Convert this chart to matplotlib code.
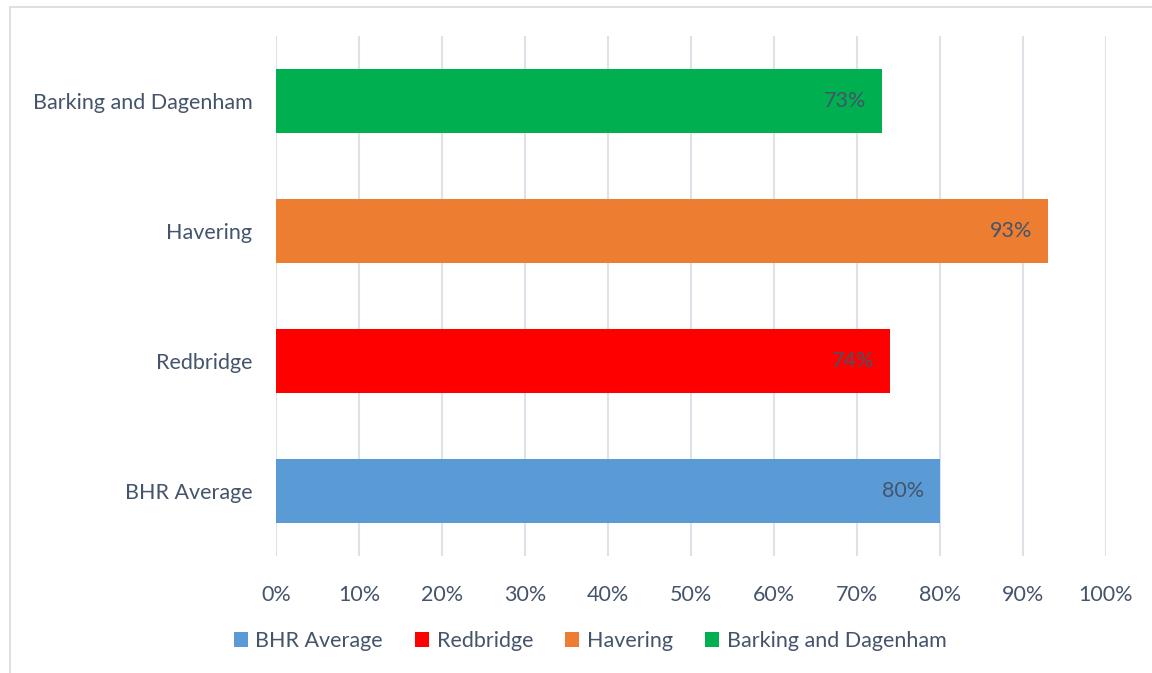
import matplotlib.pyplot as plt
from matplotlib.patches import Rectangle, Patch

plt.rcParams["font.family"] = ["Lato", "DejaVu Sans"]

# data
areas = ["BHR Average", "Redbridge", "Havering", "Barking and Dagenham"]
values = [80, 74, 93, 73]
colours = ["#5B9BD5", "#FF0000", "#ED7D31", "#00B050"]
xticks = list(range(0, 101, 10))
xlabels = ["%d%%" % t for t in xticks]

textCol = "#44546A"
gridCol = "#DDE2E9"
fs = 15.5

fig = plt.figure(figsize=(11.52, 6.73), dpi=100)
ax = fig.add_axes([276 / 1152, 1 - 556 / 673, 830 / 1152, 520 / 673])

ypos = list(range(len(areas)))
bars = ax.barh(ypos, values, height=0.49, color=colours, zorder=2)
for y, v in zip(ypos, values):
    ax.text(v - 1.9, y, "%d%%" % v, ha="right", va="center",
            fontsize=fs, color=textCol, zorder=3)

ax.set_xlim(0, 100)
ax.set_ylim(-0.5, len(areas) - 0.5)
ax.set_xticks(xticks)
ax.set_xticklabels(xlabels)
ax.set_yticks(ypos)
ax.set_yticklabels(areas)
ax.tick_params(axis="both", length=0, labelsize=fs, labelcolor=textCol)
ax.tick_params(axis="x", pad=21)
ax.tick_params(axis="y", pad=17)
ax.grid(axis="x", color=gridCol, linewidth=1.5, zorder=0)
for s in ax.spines.values():
    s.set_visible(False)

handles = [Patch(facecolor=c, label=a) for a, c in zip(areas, colours)]
leg = fig.legend(handles=handles, loc="center", bbox_to_anchor=(590 / 1152, 1 - 641 / 673),
                 ncol=4, frameon=False, fontsize=fs, handlelength=0.65, handleheight=0.65,
                 handletextpad=0.35, columnspacing=1.5)
for t in leg.get_texts():
    t.set_color(textCol)

# outer chart border (cut by the image edge)
fig.patches.append(Rectangle((10 / 1152, -0.1), 1.2, 1 - 7 / 673 + 0.1,
                             transform=fig.transFigure, fill=False,
                             edgecolor="#D9D9D9", linewidth=1.2))

plt.savefig("out.png", dpi=100)
